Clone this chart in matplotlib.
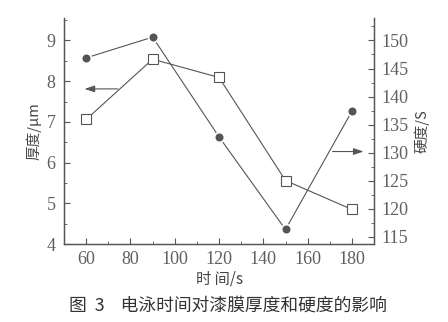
import matplotlib.pyplot as plt
from matplotlib.ticker import MultipleLocator

# data
time_s = [60, 90, 120, 150, 180]
thickness_um = [7.06, 8.54, 8.09, 5.56, 4.85]
hardness_s = [146.9, 150.6, 132.8, 116.3, 137.4]

CJK = ["Noto Sans CJK SC", "DejaVu Sans"]
GREY = "#555555"


def main():
    plt.rcParams["font.family"] = ["Liberation Serif", "DejaVu Serif"]

    fig = plt.figure(figsize=(4.48, 3.22), dpi=100)
    ax = fig.add_axes([0.143, 0.242, 0.692, 0.702])
    ax2 = ax.twinx()

    # thickness (squares, left axis)
    ax.plot(time_s, thickness_um, color=GREY, lw=0.8, marker="s", ms=6.5,
            mfc="white", mec=GREY, mew=0.8, zorder=3)
    # hardness (circles, right axis)
    ax2.plot(time_s, hardness_s, color=GREY, lw=0.8, marker="o", ms=7,
             mfc=GREY, mec="white", mew=1.2, zorder=3)

    ax.set_xlim(50, 190)
    ax.set_ylim(4, 9.55)
    ax2.set_ylim(113.7, 154)

    ax.xaxis.set_major_locator(MultipleLocator(20))
    ax.xaxis.set_minor_locator(MultipleLocator(10))
    ax.yaxis.set_major_locator(MultipleLocator(1))
    ax.yaxis.set_minor_locator(MultipleLocator(0.5))
    ax2.yaxis.set_major_locator(MultipleLocator(5))
    ax2.yaxis.set_minor_locator(MultipleLocator(2.5))

    for a in (ax, ax2):
        a.spines["top"].set_visible(False)
        for s in a.spines.values():
            s.set_color(GREY)
            s.set_linewidth(0.9)
        a.tick_params(which="major", direction="in", length=4, width=0.8,
                      colors=GREY, labelsize=13, labelcolor="#5f5f5f")
        a.tick_params(which="minor", direction="in", length=2, width=0.6,
                      colors=GREY)
    ax.tick_params(axis="x", pad=5)
    ax.tick_params(axis="y", pad=6)
    ax2.tick_params(axis="y", pad=5)

    # arrows pointing to the matching axis
    ax.annotate("", xy=(58, 7.81), xytext=(75.5, 7.81),
                arrowprops=dict(arrowstyle="-|>,head_length=0.6,head_width=0.2",
                                color=GREY, lw=0.8))
    ax2.annotate("", xy=(186.5, 130.2), xytext=(170, 130.2),
                 arrowprops=dict(arrowstyle="-|>,head_length=0.6,head_width=0.2",
                                 color=GREY, lw=0.8))

    ax.set_xlabel("时 间/s", family=CJK, fontsize=11, color="#444444",
                  labelpad=2)
    ax.set_ylabel("厚度/μm", family=CJK, fontsize=10.5, color="#444444",
                  labelpad=4)
    ax2.set_ylabel("硬度/S", family=CJK, fontsize=10.5, color="#444444",
                   rotation=90, labelpad=4)

    fig.text(0.508, 0.05, "图  3    电泳时间对漆膜厚度和硬度的影响",
             family=CJK, fontsize=12.8, color="#333333", ha="center",
             va="center")


if __name__ == "__main__":

    main()

    plt.savefig("out.png", dpi=100)
